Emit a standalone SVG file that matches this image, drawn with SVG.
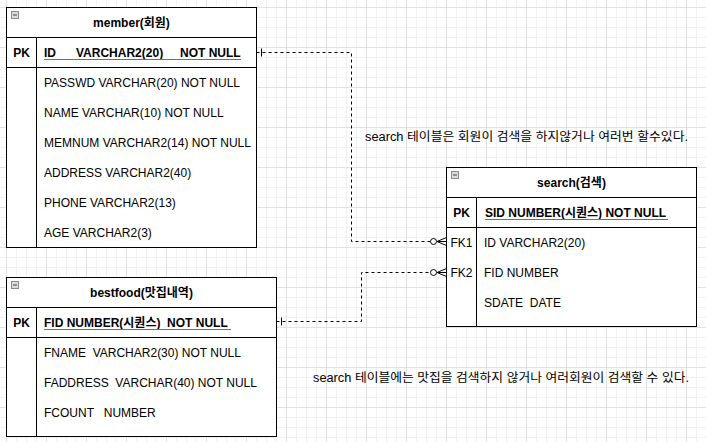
<svg xmlns="http://www.w3.org/2000/svg" width="706" height="442" viewBox="0 0 706 442">
<defs>
<pattern id="minor" x="6" y="7" width="10" height="10" patternUnits="userSpaceOnUse">
<path d="M0.5 0V10M0 0.5H10" stroke="#f2f2f2" stroke-width="1" fill="none"/>
</pattern>
<pattern id="major" x="6" y="7" width="40" height="40" patternUnits="userSpaceOnUse">
<path d="M0.5 0V40M0 0.5H40" stroke="#e2e2e2" stroke-width="1" fill="none"/>
</pattern>
<g id="icon">
<rect x="0.5" y="0.5" width="7" height="7" fill="#dcdcdc" stroke="#8a8a8a"/>
<line x1="2" y1="4" x2="6" y2="4" stroke="#444"/>
</g>
</defs>
<style>
text{font-family:"Liberation Sans","Noto Sans CJK KR",Arial,sans-serif;font-size:12px;fill:#000}
.h{font-weight:bold;text-anchor:middle}
.b{font-weight:bold}
.c{text-anchor:middle}
.box{fill:#fff;stroke:#000;stroke-width:1}
.ln{stroke:#000;stroke-width:1;fill:none}
.ul{stroke:#707070;stroke-width:1}
.conn{stroke:#000;stroke-width:1;fill:none;stroke-dasharray:3 3}
.mk{stroke:#000;stroke-width:1;fill:none}
.t{white-space:pre}
</style>
<rect width="706" height="442" fill="#fff"/>
<rect width="706" height="442" fill="url(#minor)"/>
<rect width="706" height="442" fill="url(#major)"/>

<g id="member">
<rect class="box" x="6.5" y="7.5" width="250" height="240"/>
<line class="ln" x1="6.5" y1="37.5" x2="256.5" y2="37.5"/>
<line class="ln" x1="6.5" y1="67.5" x2="256.5" y2="67.5"/>
<line class="ln" x1="36.5" y1="37.5" x2="36.5" y2="247.5"/>
<use href="#icon" x="11" y="11"/>
<text class="h" x="131.5" y="27">member(회원)</text>
<text class="h" x="21.5" y="57">PK</text>
<text class="b" y="57"><tspan x="44">ID</tspan><tspan x="76">VARCHAR2(20)</tspan><tspan x="180">NOT NULL</tspan></text>
<line class="ul" x1="44" y1="59.5" x2="241" y2="59.5"/>
<text x="44" y="87">PASSWD VARCHAR(20) NOT NULL</text>
<text x="44" y="117">NAME VARCHAR(10) NOT NULL</text>
<text x="44" y="147">MEMNUM VARCHAR2(14) NOT NULL</text>
<text x="44" y="177">ADDRESS VARCHAR2(40)</text>
<text x="44" y="207">PHONE VARCHAR2(13)</text>
<text x="44" y="237">AGE VARCHAR2(3)</text>
</g>

<g id="search">
<rect class="box" x="446.5" y="167.5" width="250" height="159"/>
<line class="ln" x1="446.5" y1="197.5" x2="696.5" y2="197.5"/>
<line class="ln" x1="446.5" y1="227.5" x2="696.5" y2="227.5"/>
<line class="ln" x1="476.5" y1="197.5" x2="476.5" y2="326.5"/>
<use href="#icon" x="451" y="171"/>
<text class="h" x="571.5" y="187">search(검색)</text>
<text class="h" x="461.5" y="217">PK</text>
<text class="b" x="485" y="217">SID NUMBER(시퀀스) NOT NULL</text>
<line class="ul" x1="485" y1="219.5" x2="668" y2="219.5"/>
<text class="c" x="461.5" y="247">FK1</text>
<text class="c" x="461.5" y="277">FK2</text>
<text x="484" y="247">ID VARCHAR2(20)</text>
<text x="484" y="277">FID NUMBER</text>
<text class="t" x="484" y="307">SDATE  DATE</text>
</g>

<g id="bestfood">
<rect class="box" x="6.5" y="277.5" width="270" height="159"/>
<line class="ln" x1="6.5" y1="307.5" x2="276.5" y2="307.5"/>
<line class="ln" x1="6.5" y1="337.5" x2="276.5" y2="337.5"/>
<line class="ln" x1="36.5" y1="307.5" x2="36.5" y2="436.5"/>
<use href="#icon" x="11" y="281"/>
<text class="h" x="141.5" y="297">bestfood(맛집내역)</text>
<text class="h" x="21.5" y="327">PK</text>
<text class="b t" x="44" y="327">FID NUMBER(시퀀스)  NOT NULL</text>
<line class="ul" x1="44" y1="329.5" x2="231" y2="329.5"/>
<text class="t" x="44" y="357">FNAME  VARCHAR2(30) NOT NULL</text>
<text class="t" x="44" y="387">FADDRESS  VARCHAR(40) NOT NULL</text>
<text class="t" x="44" y="417">FCOUNT   NUMBER</text>
</g>

<g id="connectors">
<path class="conn" d="M256.5 52.5H351.5V241.5H430"/>
<line class="mk" x1="261.5" y1="48.5" x2="261.5" y2="56.5"/>
<circle class="mk" cx="433.5" cy="241.5" r="3"/>
<path class="mk" d="M446.5 237.5L437 241.5L446.5 245.5M437 241.5H446.5"/>

<path class="conn" d="M276.5 321.5H361.5V272.5H430"/>
<line class="mk" x1="281.5" y1="317.5" x2="281.5" y2="325.5"/>
<circle class="mk" cx="433.5" cy="272.5" r="3"/>
<path class="mk" d="M446.5 268.5L437 272.5L446.5 276.5M437 272.5H446.5"/>
</g>

<g id="notes">
<text x="365" y="141" textLength="323" lengthAdjust="spacingAndGlyphs">search 테이블은 회원이 검색을 하지않거나 여러번 할수있다.</text>
<text x="313" y="382" textLength="376" lengthAdjust="spacingAndGlyphs">search 테이블에는 맛집을 검색하지 않거나 여러회원이 검색할 수 있다.</text>
</g>
</svg>
